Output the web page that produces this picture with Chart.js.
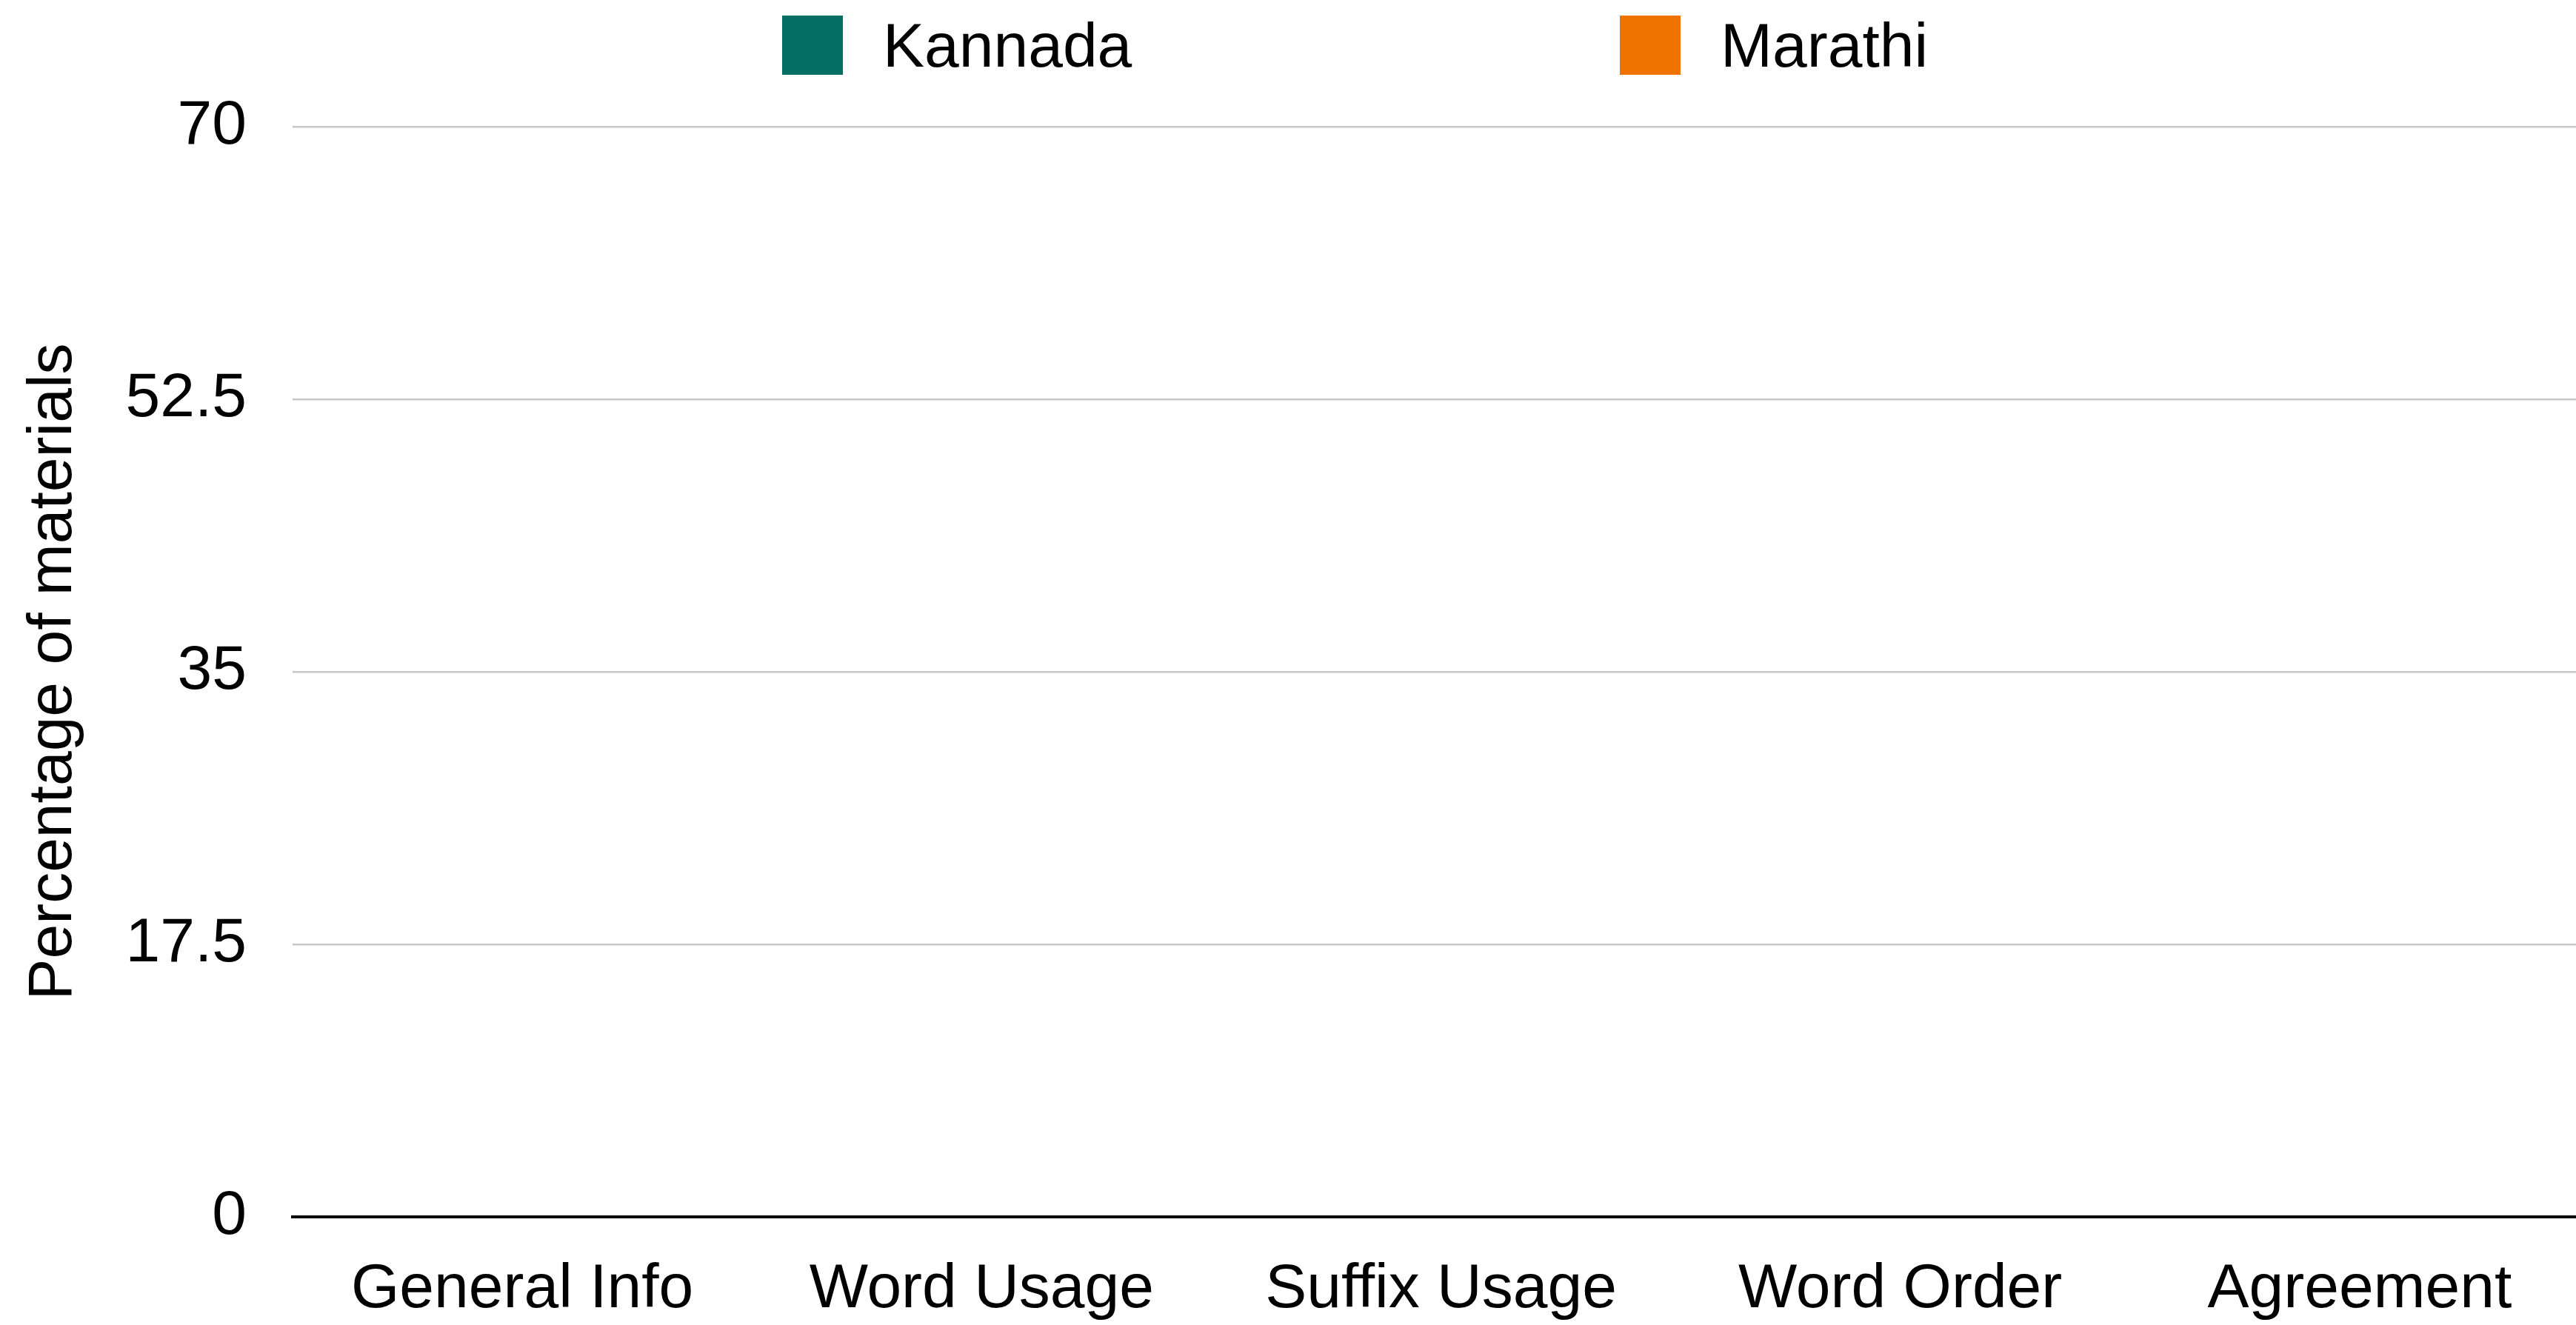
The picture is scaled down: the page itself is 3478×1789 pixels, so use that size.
<!DOCTYPE html>
<html>
<head>
<meta charset="utf-8">
<script src="https://cdn.jsdelivr.net/npm/chart.js@4.4.1/dist/chart.umd.min.js"></script>
<style>
  html, body { margin: 0; padding: 0; background: #fff; overflow: hidden; }
  #wrap { position: relative; width: 3496px; height: 1789px; }
  #legend {
    position: absolute; top: 21px; left: 1056px;
    display: flex; font-family: "Liberation Sans", Arial, sans-serif;
    font-size: 84px; color: #000;
  }
  .item { display: flex; align-items: center; width: 1131px; height: 80px; }
  .swatch { width: 82px; height: 80px; margin-right: 54px; }
</style>
</head>
<body>
<div id="wrap">
  <canvas id="myChart"></canvas>
  <div id="legend"></div>
</div>
<script>
const categories = ['General Info', 'Word Usage', 'Suffix Usage', 'Word Order', 'Agreement'];
const kannada = [0, 0, 0, 0, 0];
const marathi = [0, 0, 0, 0, 0];
const yTicks = [0, 17.5, 35, 52.5, 70];

const fontFamily = '"Liberation Sans", Arial, sans-serif';
let ctx = document.getElementById('myChart').getContext('2d');

const myChart = new Chart(ctx, {
  type: 'bar',
  data: {
    labels: categories,
    datasets: [
      { label: 'Kannada', data: kannada, backgroundColor: '#036e64' },
      { label: 'Marathi', data: marathi, backgroundColor: '#f07300' }
    ]
  },
  options: {
    responsive: true,
    maintainAspectRatio: false,
    animation: false,
    layout: { padding: { top: 171, left: 0, right: 0, bottom: 0 } },
    plugins: {
      legend: { display: false },
      tooltip: { enabled: false }
    },
    scales: {
      x: {
        grid: { display: false, drawTicks: false },
        border: { display: true, color: '#000', width: 4 },
        ticks: {
          color: '#000',
          padding: 48,
          maxRotation: 0,
          font: { family: fontFamily, size: 84 }
        },
        afterFit: (axis) => { axis.height = 146; }
      },
      y: {
        min: 0,
        max: 70,
        afterBuildTicks: (axis) => { axis.ticks = yTicks.map(v => ({ value: v })); },
        grid: {
          drawTicks: false,
          color: (c) => c.tick && c.tick.value === 0 ? '#000' : '#c8c8c8',
          lineWidth: (c) => c.tick && c.tick.value === 0 ? 4 : 2.5
        },
        border: { display: false },
        ticks: {
          color: '#000',
          padding: 62,
          font: { family: fontFamily, size: 84 },
          callback: (v) => String(v)
        },
        title: {
          display: true,
          text: 'Percentage of materials',
          color: '#000',
          padding: { top: 22, bottom: 0 },
          font: { family: fontFamily, size: 84 }
        },
        afterFit: (axis) => { axis.width = 395; }
      }
    }
  }
});

// legend built from the datasets
const legendEl = document.getElementById('legend');
myChart.data.datasets.forEach(ds => {
  const item = document.createElement('div');
  item.className = 'item';
  const sw = document.createElement('div');
  sw.className = 'swatch';
  sw.style.background = ds.backgroundColor;
  const txt = document.createElement('span');
  txt.textContent = ds.label;
  item.appendChild(sw);
  item.appendChild(txt);
  legendEl.appendChild(item);
});
</script>
</body>
</html>
